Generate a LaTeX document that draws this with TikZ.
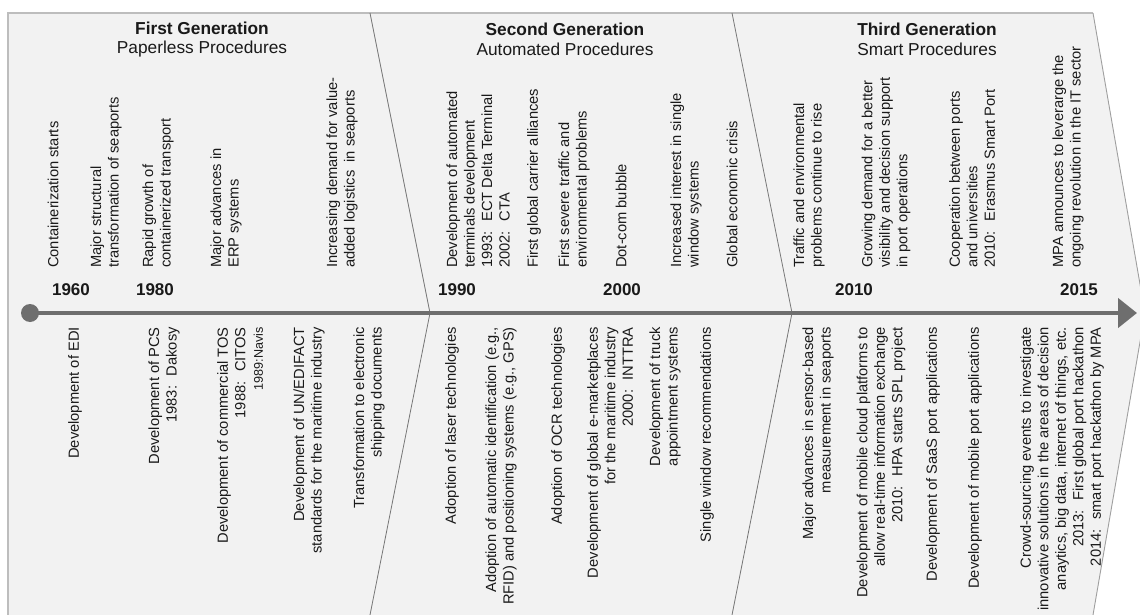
\documentclass[tikz,border=0pt]{standalone}
\usepackage{fontspec}
\setmainfont{Liberation Sans}
\usetikzlibrary{arrows.meta}
\definecolor{panel}{HTML}{F2F2F2}
\definecolor{rim}{HTML}{BDBDBD}
\definecolor{seam}{HTML}{767676}
\definecolor{axisgray}{HTML}{6E6E6E}
\definecolor{ink}{HTML}{1A1A1A}
\newcommand{\minorline}[1]{{\fontsize{12.6}{15}\selectfont #1}}
\begin{document}
\begin{tikzpicture}[x=1pt,y=-1pt,
  every node/.style={inner sep=0pt, text=ink},
  evt/.style={rotate=90, font=\fontsize{14.7}{17.5}\selectfont},
  upevt/.style={evt, anchor=west, align=left},
  downevt/.style={evt, anchor=east, align=right},
  yearlabel/.style={font=\fontsize{17}{20}\selectfont\bfseries},
  gentitle/.style={align=center, font=\fontsize{17.3}{19.5}\selectfont},
]
\useasboundingbox (0,0) rectangle (1140,615);

% background band of the three generations
\fill[panel] (8,13) -- (1093,13) -- (1145,313) -- (1093,615) -- (8,615) -- cycle;
\draw[rim, line width=1.5pt] (8,615) -- (8,13) -- (1093,13);
\draw[seam!70, line width=0.9pt] (1093,13) -- (1145,313) -- (1093,615);
% chevron seams between the generations
\draw[seam, line width=0.8pt] (370,13) -- (430,313) -- (370,615);
\draw[seam, line width=0.8pt] (732,13) -- (792,313) -- (732,615);

% generation titles
\node[gentitle] (gen1) at (202,39.5) {\textbf{First Generation}\\Paperless Procedures};
\node[gentitle] (gen2) at (565,39.5) {\textbf{Second Generation}\\Automated Procedures};
\node[gentitle] (gen3) at (927,39.5) {\textbf{Third Generation}\\Smart Procedures};

% time axis
\node[circle, fill=axisgray, minimum size=18pt] (origin) at (30,313) {};
\coordinate (axisend) at (1137,313);
\draw[axisgray, line width=4.5pt, -{Triangle[length=19pt 0 1, width=29pt 0 1]}] (origin.center) -- (axisend);

% years
\node[yearlabel] (y1960) at (71,290) {1960};
\node[yearlabel] (y1980) at (155,290) {1980};
\node[yearlabel] (y1990) at (457,290) {1990};
\node[yearlabel] (y2000) at (622,290) {2000};
\node[yearlabel] (y2010) at (854,290) {2010};
\node[yearlabel] (y2015) at (1079,290) {2015};

% context events above the axis
\node[upevt] (u1) at (53,268) {Containerization starts};
\node[upevt] (u2) at (106,268) {Major structural\\transformation of seaports};
\node[upevt] (u3) at (158,268) {Rapid growth of\\containerized transport};
\node[upevt] (u4) at (226,268) {Major advances in\\ERP systems};
\node[upevt] (u5) at (342,268) {Increasing demand for value-\\added logistics~ in seaports};
\node[upevt] (u6) at (478,268) {Development of automated\\terminals development\\1993:~ ECT Delta Terminal\\2002:~ CTA};
\node[upevt] (u7) at (534,268) {First global carrier alliances};
\node[upevt] (u8) at (574,268) {First severe traffic and\\environmental problems};
\node[upevt] (u9) at (621,268) {Dot-com bubble};
\node[upevt] (u10) at (686,268) {Increased interest in single\\window systems};
\node[upevt] (u11) at (732,268) {Global economic crisis};
\node[upevt] (u12) at (809,268) {Traffic and environmental\\problems continue to rise};
\node[upevt] (u13) at (886,268) {Growing demand for a better\\visibility and decision support\\in port operations};
\node[upevt] (u14) at (972,268) {Cooperation between ports\\and universities\\2010:~ Erasmus Smart Port};
\node[upevt] (u15) at (1068,268) {MPA announces to leverarge the\\ongoing revolution in the IT sector};

% technology events below the axis
\node[downevt] (d1) at (75,327) {Development of EDI};
\node[downevt] (d2) at (164,327) {Development of PCS\\1983:~ Dakosy};
\node[downevt] (d3) at (240,327) {Development of commercial TOS\\1988:~ CITOS\\\minorline{1989:Navis}};
\node[downevt] (d4) at (309,327) {Development of UN/EDIFACT\\standards for the maritime industry};
\node[downevt] (d5) at (369,327) {Transformation to electronic\\shipping documents};
\node[downevt] (d6) at (452,327) {Adoption of laser technologies};
\node[downevt] (d7) at (501,327) {Adoption of automatic identification (e.g.,\\RFID) and positioning systems (e.g., GPS)};
\node[downevt] (d8) at (558,327) {Adoption of OCR technologies};
\node[downevt] (d9) at (610,327) {Development of global e-marketplaces\\for the maritime industry\\2000:~ INTTRA};
\node[downevt] (d10) at (665,327) {Development of truck\\appointment systems};
\node[downevt] (d11) at (707,327) {Single window recommendations};
\node[downevt] (d12) at (818,327) {Major advances in sensor-based\\measurement in seaports};
\node[downevt] (d13) at (881,327) {Development of mobile cloud platforms to\\allow real-time information exchange\\2010:~ HPA starts SPL project};
\node[downevt] (d14) at (933,327) {Development of SaaS port applications};
\node[downevt] (d15) at (975,327) {Development of mobile port applications};
\node[downevt] (d16) at (1062,327) {Crowd-sourcing events to investigate\\innovative solutions in the areas of decision\\anaytics, big data, internet of things, etc.\\2013:~ First global port hackathon\\2014:~ smart port hackathon by MPA};
\end{tikzpicture}
\end{document}
